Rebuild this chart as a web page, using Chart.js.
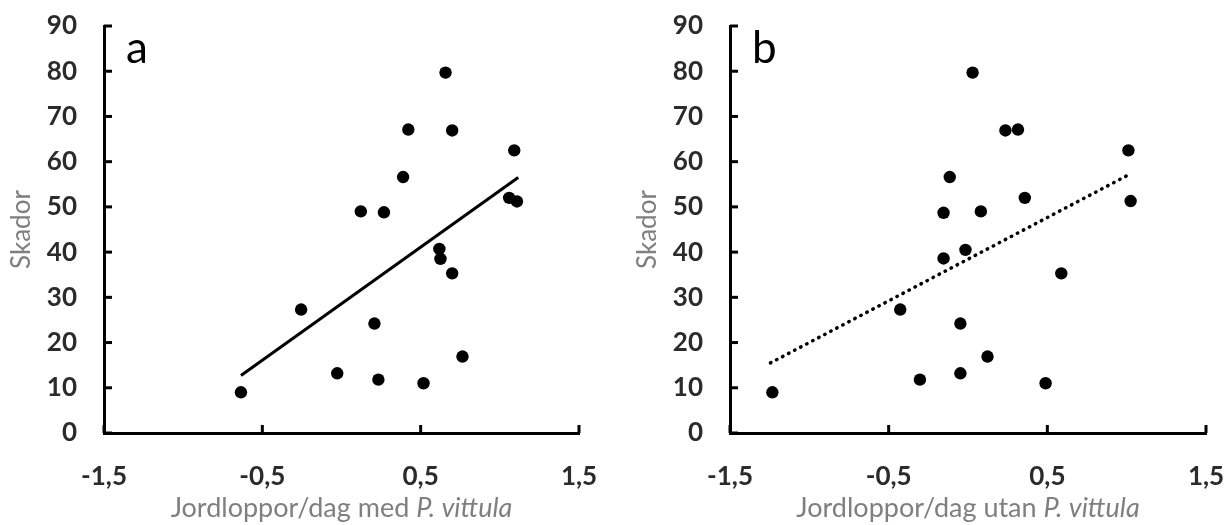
<!DOCTYPE html>
<html>
<head>
<meta charset="utf-8">
<script src="https://cdn.jsdelivr.net/npm/chart.js@4.4.1/dist/chart.umd.min.js"></script>
<style>
  html, body { margin: 0; padding: 0; background: #fff; }
  #wrap { display: flex; width: 1224px; height: 525px; }
  .box { position: relative; width: 612px; height: 525px; }
</style>
</head>
<body>
<div id="wrap">
  <div class="box"><canvas id="chartA"></canvas></div>
  <div class="box"><canvas id="chartB"></canvas></div>
</div>
<script>
// panel a - med P. vittula
var medX = [-0.635, -0.255, -0.027, 0.122, 0.208, 0.233, 0.268, 0.389, 0.422, 0.518, 0.618, 0.625, 0.657, 0.699, 0.699, 0.764, 1.059, 1.091, 1.108];
var medY = [9.0, 27.3, 13.2, 49.0, 24.2, 11.8, 48.8, 56.6, 67.1, 11.0, 40.7, 38.5, 79.7, 66.9, 35.3, 16.9, 52.0, 62.5, 51.2];
var medTrendX = [-0.635, 1.116];
var medTrendY = [12.7, 56.5];

// panel b - utan P. vittula
var utanX = [-1.233, -0.427, -0.303, -0.154, -0.154, -0.115, -0.048, -0.048, -0.016, 0.029, 0.081, 0.123, 0.236, 0.315, 0.358, 0.489, 0.588, 1.011, 1.025];
var utanY = [9.0, 27.3, 11.8, 48.7, 38.6, 56.6, 24.2, 13.2, 40.5, 79.7, 49.0, 16.9, 66.9, 67.1, 52.0, 11.0, 35.3, 62.5, 51.3];
var utanTrendX = [-1.245, 1.013];
var utanTrendY = [15.5, 57.1];

// axes
var xTicks = [-1.5, -0.5, 0.5, 1.5];
var yTicks = [0, 10, 20, 30, 40, 50, 60, 70, 80, 90];
var yTitle = "Skador";

function toPoints(xs, ys) {
  return xs.map(function (x, i) { return { x: x, y: ys[i] }; });
}

// inner tick marks, panel letter and the mixed-style x title
var extras = {
  id: "extras",
  afterDraw: function (chart, args, opts) {
    var ctx = chart.ctx;
    var area = chart.chartArea;
    var xs = chart.scales.x;
    var ys = chart.scales.y;
    ctx.save();
    ctx.strokeStyle = "#000";
    ctx.lineWidth = 3;
    xs.ticks.forEach(function (t) {
      var px = xs.getPixelForValue(t.value);
      ctx.beginPath();
      ctx.moveTo(px, area.bottom);
      ctx.lineTo(px, area.bottom - 8);
      ctx.stroke();
    });
    ys.ticks.forEach(function (t) {
      var py = ys.getPixelForValue(t.value);
      ctx.beginPath();
      ctx.moveTo(area.left, py);
      ctx.lineTo(area.left + 8, py);
      ctx.stroke();
    });

    ctx.fillStyle = "#000";
    ctx.font = "44px Lato";
    ctx.textBaseline = "alphabetic";
    ctx.textAlign = "left";
    ctx.fillText(opts.letter, area.left + 22, area.top + 37);

    var mid = (area.left + area.right) / 2;
    ctx.fillStyle = "#7f7f7f";
    ctx.font = "27px Lato";
    var w1 = ctx.measureText(opts.title).width;
    ctx.font = "italic 27px Lato";
    var w2 = ctx.measureText(opts.titleItalic).width;
    var x0 = mid - (w1 + w2) / 2;
    ctx.font = "27px Lato";
    ctx.fillText(opts.title, x0, 517);
    ctx.font = "italic 27px Lato";
    ctx.fillText(opts.titleItalic, x0 + w1, 517);
    ctx.restore();
  },
};

function makeChart(canvasId, xs, ys, tx, ty, dash, padLeft, padRight, letter, title) {
  return new Chart(document.getElementById(canvasId), {
    type: "scatter",
    data: {
      datasets: [
        {
          data: toPoints(tx, ty),
          showLine: true,
          borderColor: "#000",
          borderWidth: dash ? 3.5 : 3,
          borderDash: dash ? [0.5, 6.3] : [],
          borderCapStyle: dash ? "round" : "butt",
          pointRadius: 0,
        },
        {
          data: toPoints(xs, ys),
          pointRadius: 6.2,
          pointBackgroundColor: "#000",
          pointBorderWidth: 0,
        },
      ],
    },
    options: {
      animation: false,
      responsive: true,
      maintainAspectRatio: false,
      layout: {
        padding: { left: padLeft, right: padRight, top: 26, bottom: 0 },
      },
      plugins: {
        legend: { display: false },
        tooltip: { enabled: false },
        extras: { letter: letter, title: title, titleItalic: "P. vittula" },
      },
      scales: {
        x: {
          type: "linear",
          min: -1.5,
          max: 1.5,
          afterBuildTicks: function (scale) {
            scale.ticks = xTicks.map(function (v) { return { value: v }; });
          },
          afterFit: function (scale) {
            scale.height = 92;
            scale.paddingLeft = 0;
            scale.paddingRight = 0;
          },
          grid: { drawOnChartArea: false, drawTicks: false },
          border: { display: true, color: "#000", width: 3 },
          ticks: {
            color: "#2b2b2b",
            font: { family: "Lato", size: 26, weight: "bold" },
            padding: 28,
            maxRotation: 0,
            callback: function (v) { return String(v).replace(".", ","); },
          },
        },
        y: {
          min: 0,
          max: 90,
          afterBuildTicks: function (scale) {
            scale.ticks = yTicks.map(function (v) { return { value: v }; });
          },
          afterFit: function (scale) {
            scale.width = 104;
            scale.paddingTop = 0;
            scale.paddingBottom = 0;
          },
          grid: { drawOnChartArea: false, drawTicks: false },
          border: { display: true, color: "#000", width: 3 },
          title: {
            display: true,
            text: yTitle,
            color: "#7f7f7f",
            font: { family: "Lato", size: 26 },
            padding: { top: 6, bottom: 0 },
          },
          ticks: {
            color: "#2b2b2b",
            font: { family: "Lato", size: 26, weight: "bold" },
            padding: 27,
          },
        },
      },
    },
    plugins: [extras],
  });
}

makeChart("chartA", medX, medY, medTrendX, medTrendY, false, 0, 33, "a", "Jordloppor/dag med ");
makeChart("chartB", utanX, utanY, utanTrendX, utanTrendY, true, 14, 18, "b", "Jordloppor/dag utan ");
</script>
</body>
</html>
